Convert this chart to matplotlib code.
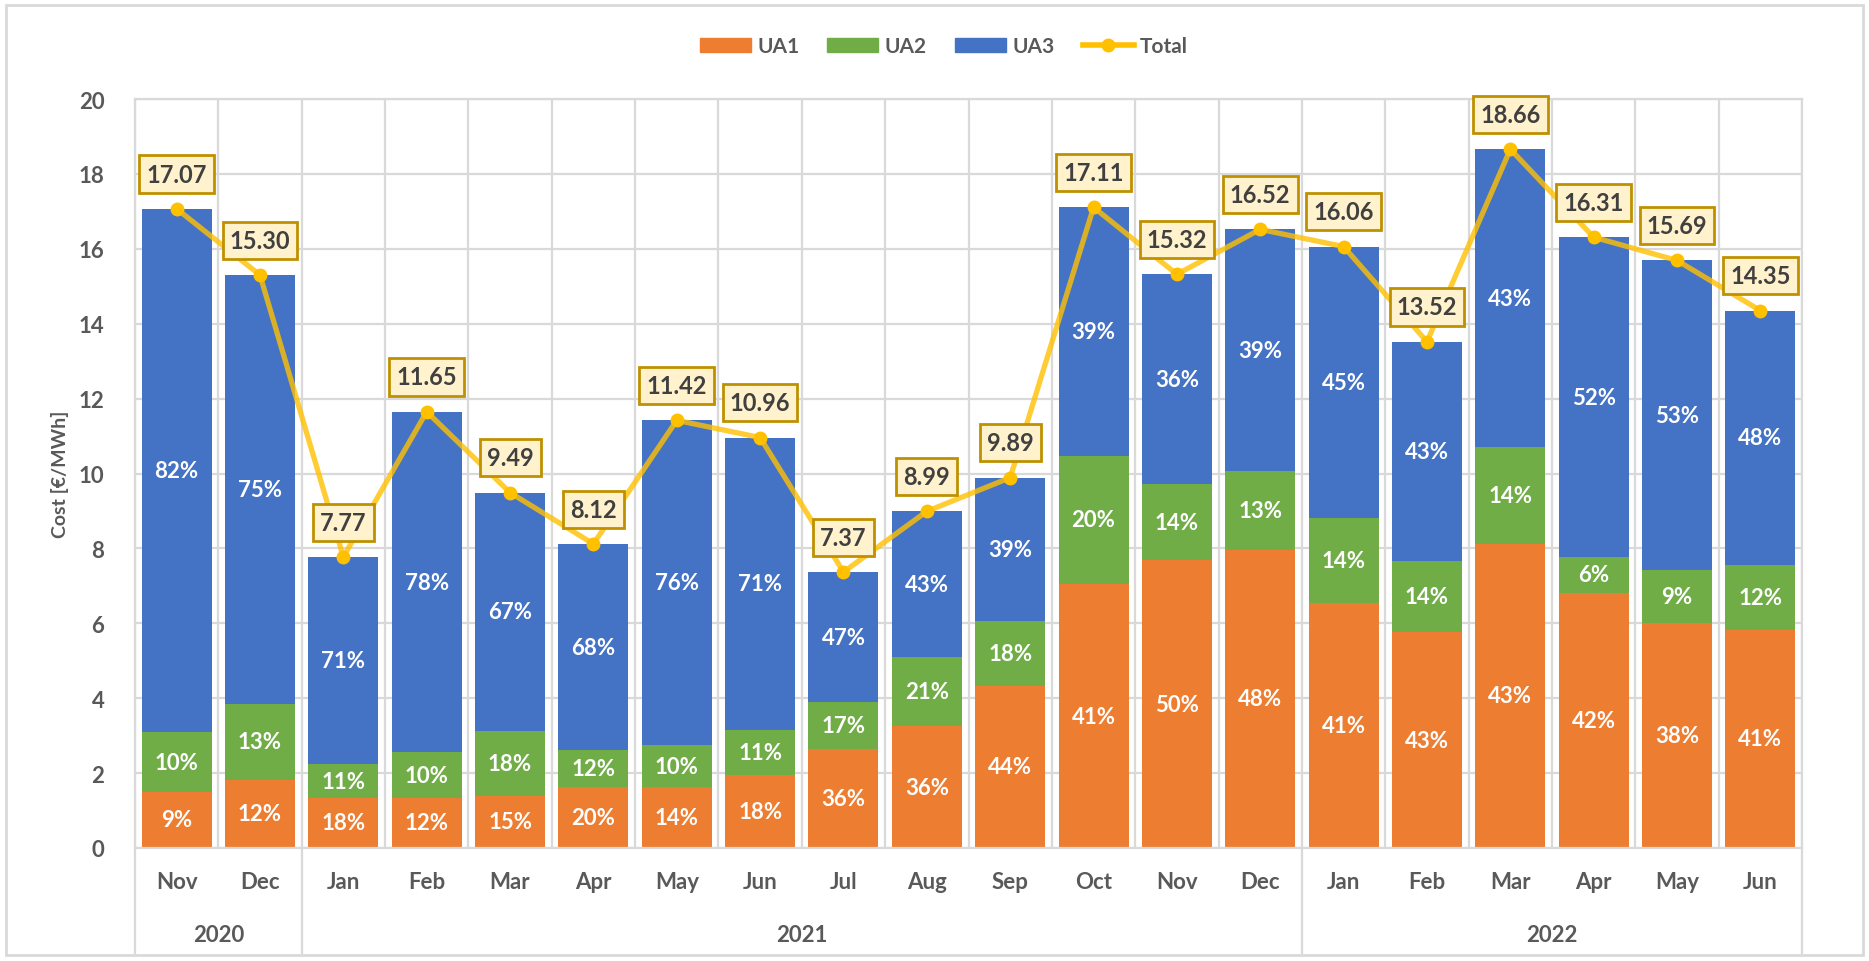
import numpy as np
import matplotlib.pyplot as plt
from matplotlib.lines import Line2D
from matplotlib.patches import Rectangle, Patch
import matplotlib.transforms as mtransforms

plt.rcParams['font.family'] = ['Lato', 'DejaVu Sans']
plt.rcParams['font.weight'] = 'bold'

months = ["Nov", "Dec", "Jan", "Feb", "Mar", "Apr", "May", "Jun", "Jul", "Aug",
          "Sep", "Oct", "Nov", "Dec", "Jan", "Feb", "Mar", "Apr", "May", "Jun"]
years = ["2020", "2021", "2022"]
year_spans = [(0, 1), (2, 13), (14, 19)]  # first and last month index of each year

total = [17.07, 15.30, 7.77, 11.65, 9.49, 8.12, 11.42, 10.96, 7.37, 8.99,
         9.89, 17.11, 15.32, 16.52, 16.06, 13.52, 18.66, 16.31, 15.69, 14.35]
ua1 = [1.50, 1.82, 1.34, 1.34, 1.40, 1.62, 1.62, 1.94, 2.64, 3.25,
       4.33, 7.04, 7.68, 7.96, 6.53, 5.76, 8.12, 6.82, 6.02, 5.83]
ua2 = [1.59, 2.03, 0.89, 1.21, 1.72, 0.99, 1.12, 1.21, 1.25, 1.85,
       1.72, 3.44, 2.03, 2.10, 2.29, 1.90, 2.58, 0.95, 1.40, 1.72]
ua3 = [t - a - b for t, a, b in zip(total, ua1, ua2)]

pct1 = [9, 12, 18, 12, 15, 20, 14, 18, 36, 36, 44, 41, 50, 48, 41, 43, 43, 42, 38, 41]
pct2 = [10, 13, 11, 10, 18, 12, 10, 11, 17, 21, 18, 20, 14, 13, 14, 14, 14, 6, 9, 12]
pct3 = [82, 75, 71, 78, 67, 68, 76, 71, 47, 43, 39, 39, 36, 39, 45, 43, 43, 52, 53, 48]

c1, c2, c3, cl = '#ED7D31', '#70AD47', '#4472C4', '#FFC000'
grey = '#595959'
gridc = '#D9D9D9'

fig = plt.figure(figsize=(18.69, 9.62), dpi=100)
ax = fig.add_axes([0.0722, 0.1175, 0.892, 0.7785])

x = np.arange(len(months))
w = 0.84
b1 = np.array(ua1)
b2 = b1 + np.array(ua2)
ax.bar(x, ua1, w, color=c1, zorder=2)
ax.bar(x, ua2, w, bottom=b1, color=c2, zorder=2)
ax.bar(x, ua3, w, bottom=b2, color=c3, zorder=2)

for i in x:
    ax.text(i, ua1[i] / 2, f"{pct1[i]}%", ha='center', va='center', color='white',
            fontsize=16, fontweight='bold', zorder=3)
    ax.text(i, b1[i] + ua2[i] / 2, f"{pct2[i]}%", ha='center', va='center', color='white',
            fontsize=16, fontweight='bold', zorder=3)
    ax.text(i, b2[i] + ua3[i] / 2, f"{pct3[i]}%", ha='center', va='center', color='white',
            fontsize=16, fontweight='bold', zorder=3)

ax.plot(x, total, color=cl, lw=3.8, alpha=0.8, zorder=4)
ax.plot(x, total, 'o', color=cl, ms=9, zorder=5)
for i in x:
    ax.annotate(f"{total[i]:.2f}", (i, total[i]), xytext=(0, 25), textcoords='offset points',
                ha='center', va='center', fontsize=17, fontweight='bold', color='#404040',
                bbox=dict(boxstyle='square,pad=0.3', fc='#FFF2CC', ec='#BF9000', lw=2),
                zorder=6)

ax.set_xlim(-0.5, len(months) - 0.5)
ax.set_ylim(0, 20)
ax.set_yticks(range(0, 21, 2))
ax.set_xticks(np.arange(-0.5, len(months), 1))
ax.set_xticklabels([])
ax.tick_params(axis='both', length=0)
ax.tick_params(axis='y', labelsize=16, labelcolor=grey, pad=22)
for lab in ax.get_yticklabels():
    lab.set_fontweight('bold')
ax.grid(True, color=gridc, lw=1.6, zorder=0)
ax.set_axisbelow(True)
for s in ax.spines.values():
    s.set_color(gridc)
    s.set_linewidth(1.6)

trans = mtransforms.blended_transform_factory(ax.transData, ax.transAxes)
for i, m in enumerate(months):
    ax.text(i, -0.045, m, transform=trans, ha='center', va='center',
            fontsize=16, fontweight='bold', color=grey)
for yr, (a, b) in zip(years, year_spans):
    ax.text((a + b) / 2, -0.115, yr, transform=trans, ha='center', va='center',
            fontsize=16, fontweight='bold', color=grey)
for xb in [-0.5, 1.5, 13.5, 19.5]:
    ax.add_line(Line2D([xb, xb], [0, -0.14], transform=trans, color=gridc, lw=1.6,
                       clip_on=False))

fig.text(60 / 1869, 0.507, "Cost [€/MWh]", rotation=90, ha='center', va='center',
         fontsize=14, fontweight='bold', color=grey)

handles = [Patch(color=c1), Patch(color=c2), Patch(color=c3),
           Line2D([], [], marker='o', color=cl, lw=4, ms=9)]
leg = fig.legend(handles, ["UA1", "UA2", "UA3", "Total"], loc='center', ncol=4,
                 bbox_to_anchor=(0.505, 0.951), frameon=False, fontsize=15,
                 handlelength=2.45, handleheight=0.7, columnspacing=1.35,
                 handletextpad=0.3)
for t in leg.get_texts():
    t.set_color(grey)
    t.set_fontweight('bold')

fig.add_artist(Rectangle((6 / 1869, 6 / 962), 1 - 12 / 1869, 1 - 12 / 962,
                         transform=fig.transFigure, fill=False, ec=gridc, lw=2))

fig.savefig('out.png', dpi=100)
